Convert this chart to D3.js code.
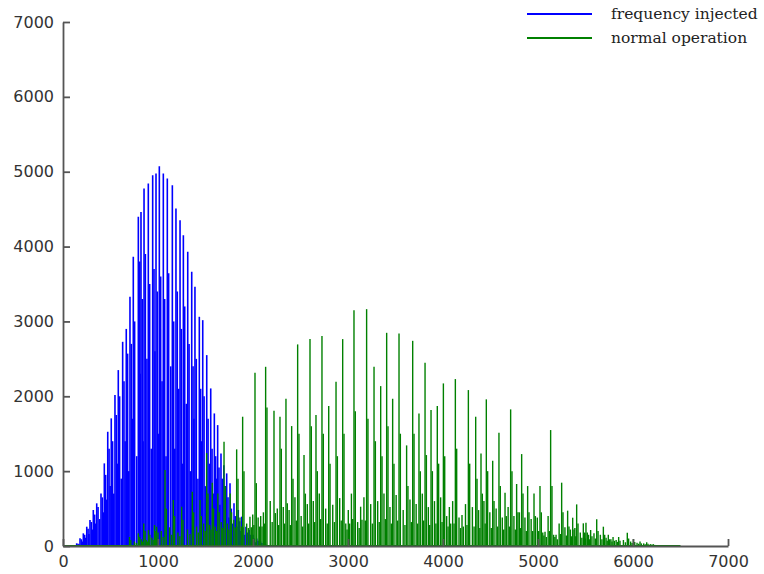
<!DOCTYPE html>
<html>
<head>
<meta charset="utf-8">
<script src="https://cdn.jsdelivr.net/npm/d3@7"></script>
<style>
  body { margin: 0; background: #fff; }
  .axis text { font-family: "DejaVu Sans", Verdana, sans-serif; font-size: 16px; fill: #333; }
  .axis path, .axis line { stroke: #555; stroke-width: 1.8; }
  .legend text { font-family: "DejaVu Serif", serif; font-size: 15.5px; fill: #222; }
</style>
</head>
<body>
<div id="chart"></div>
<script>
// tick labels
var xTicks = [0, 1000, 2000, 3000, 4000, 5000, 6000, 7000];
var yTicks = [0, 1000, 2000, 3000, 4000, 5000, 6000, 7000];
var seriesNames = ["frequency injected", "normal operation"];

// blue series: main spikes, the darker companion spike next to each, and low spikes in the gaps
var blueX = [144,179,214,250,284,319,355,400,435,471,508,547,582,628,666,705,740,793,821,853,898,944,979,1014,1056,1098,1151,1189,1232,1267,1313,1355,1389,1435,1471,1513,1555,1593,1628,1663,1693,1723,1758,1800,1845,1881,1926,1961,2000,2040,2080,2120];
var blueY = [36,103,169,258,347,481,570,703,1104,1526,1705,2016,2350,2728,2900,3329,3863,4397,4463,4775,4842,4953,4976,5073,4976,4909,4820,4508,4352,4152,3930,3663,3462,3062,3017,2550,2105,1771,1615,1237,1080,970,837,570,481,392,258,214,150,100,60,30];
var blueDark = [30,90,150,230,320,420,520,650,950,1300,1400,1750,2000,2200,2570,2700,3000,3800,3300,3900,3500,3700,3400,3600,3300,3645,3000,3400,2900,3200,2700,2400,2500,2100,2000,1700,1300,1200,1050,900,800,650,500,400,330,250,180,150,100,70,40,20];
var blueFloor = [25,60,110,160,220,300,360,450,620,800,700,1100,900,1400,1000,1700,1200,2300,1400,2500,1300,2600,1500,2200,1200,2400,1300,2100,1100,1900,1000,1700,900,1400,800,1100,700,900,550,600,420,380,300,260,200,150,110,80,50,30,15];

// green series
var greenX = [700,793,850,900,963,986,1074,1161,1249,1361,1442,1512,1571,1630,1695,1760,1828,1891,1968,2021,2081,2133,2221,2284,2347,2407,2470,2537,2600,2663,2726,2797,2874,2944,3003,3063,3133,3196,3274,3344,3407,3470,3537,3617,3681,3747,3811,3874,3940,4004,4067,4130,4200,4267,4344,4400,4456,4523,4589,4653,4712,4775,4828,4891,4958,5021,5074,5133,5190,5249,5312,5365,5407,5477,5505,5554,5618,5688,5740,5790,5849,5940,6004,6074,6144,6214];
var greenY = [120,170,300,214,281,258,1015,614,525,725,614,1241,845,700,1393,700,1291,1727,392,2314,400,2394,1807,1727,1967,1602,2693,1215,2764,1749,2804,1869,2194,2764,481,3151,525,3164,2394,2136,2848,1967,2839,1344,2741,1771,2448,1816,1869,2172,521,2230,414,2083,1727,1237,1959,1139,1513,712,1825,828,1228,801,703,801,191,1549,150,846,472,378,556,303,312,214,356,258,150,120,120,178,90,60,50,25];
var greenDark = [80,120,200,150,200,180,500,400,350,450,400,700,500,450,800,450,900,1000,250,840,260,1850,440,1300,570,900,1500,700,1600,1000,1500,1100,1200,1500,300,1800,350,1700,1400,1200,1600,1100,1500,800,1500,1000,1215,1000,1100,1200,300,1300,260,1100,900,700,1000,600,800,400,1000,450,700,450,400,450,120,800,90,450,260,220,300,180,180,130,200,150,90,70,70,100,55,35,30,15];
// small spikes in the gaps between green spikes (middle, and further along)
var greenFloor = [60,90,80,110,120,200,250,180,220,260,300,280,260,320,300,350,380,300,420,380,450,600,500,520,480,650,400,560,600,700,500,550,640,300,700,320,650,560,600,700,520,680,480,620,560,700,520,600,650,400,600,380,560,520,480,600,450,500,380,520,400,450,380,360,380,180,400,150,300,250,220,240,180,170,150,170,150,110,90,80,80,60,45,35,25];
var greenLow = [40,60,60,80,90,120,150,130,160,180,200,220,200,240,220,250,260,240,280,260,300,320,280,300,280,340,260,300,320,360,300,320,340,220,360,240,340,300,320,360,300,340,280,320,300,340,280,300,320,260,300,240,280,260,240,300,240,260,220,260,220,240,200,200,200,140,200,120,160,140,130,130,110,100,90,100,90,70,60,55,50,40,30,25,20];

var colors = ["#0000ff", "#008000"];

var width = 764, height = 574;
var svg = d3.select("#chart").append("svg")
  .attr("width", width)
  .attr("height", height);

var x = d3.scaleLinear().domain([0, 7000]).range([63, 728]);
var y = d3.scaleLinear().domain([0, 7000]).range([546, 22]);

// turn the arrays into one list of spikes
function spikes(xs, ys, dark, gaps) {
  var out = [];
  xs.forEach(function(v, i) {
    out.push({x: v, y: ys[i]});
    out.push({x: v + 14, y: dark[i]});
  });
  gaps.forEach(function(g) {
    g.values.forEach(function(v, i) {
      if (i + 1 < xs.length) {
        out.push({x: xs[i] + (xs[i + 1] - xs[i]) * g.at, y: v});
      }
    });
  });
  return out;
}
var blueSpikes = spikes(blueX, blueY, blueDark, [{values: blueFloor, at: 0.68}]);
var greenSpikes = spikes(greenX, greenY, greenDark,
  [{values: greenFloor, at: 0.55}, {values: greenLow, at: 0.78}]);

function drawSeries(data, color, x0, x1, w) {
  var g = svg.append("g");
  g.append("line")
    .attr("x1", x(x0)).attr("x2", x(x1))
    .attr("y1", y(0)).attr("y2", y(0))
    .attr("stroke", color)
    .attr("stroke-width", 2);
  g.selectAll("line.spike")
    .data(data)
    .enter()
    .append("line")
      .attr("class", "spike")
      .attr("x1", function(d) { return x(d.x); })
      .attr("x2", function(d) { return x(d.x); })
      .attr("y1", y(0))
      .attr("y2", function(d) { return y(d.y); })
      .attr("stroke", color)
      .attr("stroke-width", w);
}

drawSeries(blueSpikes, colors[0], 100, 2200, 1.6);
drawSeries(greenSpikes, colors[1], 0, 6500, 1.4);

// axes, ticks point inward
svg.append("g")
  .attr("class", "axis")
  .attr("transform", "translate(63,0)")
  .call(d3.axisLeft(y).tickValues(yTicks).tickFormat(d3.format("d"))
    .tickSizeInner(-7).tickSizeOuter(0).tickPadding(9));

svg.append("g")
  .attr("class", "axis")
  .attr("transform", "translate(0,546)")
  .call(d3.axisBottom(x).tickValues(xTicks).tickFormat(d3.format("d"))
    .tickSizeInner(-7).tickSizeOuter(0).tickPadding(10));

// legend
var legend = svg.append("g").attr("class", "legend");
legend.selectAll("line")
  .data(seriesNames)
  .enter()
  .append("line")
    .attr("x1", 527).attr("x2", 592)
    .attr("y1", function(d, i) { return 14 + i * 24; })
    .attr("y2", function(d, i) { return 14 + i * 24; })
    .attr("stroke", function(d, i) { return colors[i]; })
    .attr("stroke-width", 2);
legend.selectAll("text")
  .data(seriesNames)
  .enter()
  .append("text")
    .attr("x", 611)
    .attr("y", function(d, i) { return 19 + i * 24; })
    .text(function(d) { return d; });
</script>
</body>
</html>
